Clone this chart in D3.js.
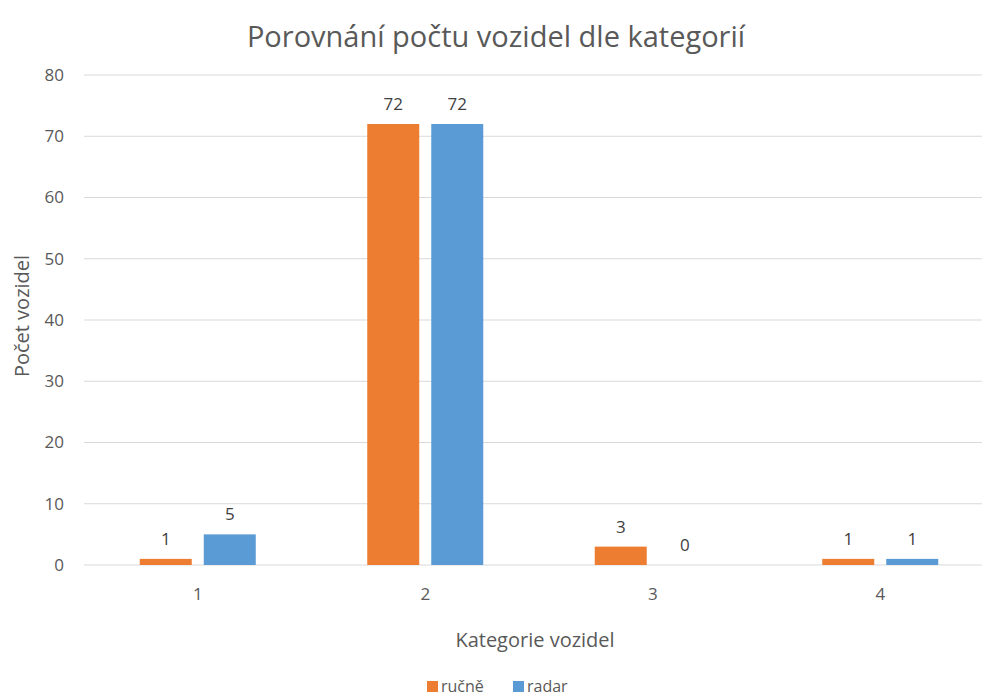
<!DOCTYPE html>
<html lang="cs">
<head>
  <meta charset="UTF-8">
  <title>Porovnání počtu vozidel dle kategorií</title>
  <script src="https://d3js.org/d3.v7.min.js"></script>
  <style>
    body { margin: 0; background: #fff; font-family: "Open Sans", sans-serif; }
    .grid line { stroke: #d9d9d9; }
  </style>
</head>
<body>
<svg width="982" height="699"></svg>

<script>
  const categories = ["1", "2", "3", "4"];
  const seriesNames = ["ručně", "radar"];
  const rucne = [1, 72, 3, 1];
  const radar = [5, 72, 0, 1];
  const yTicks = [0, 10, 20, 30, 40, 50, 60, 70, 80];
  const colors = ["#ED7D31", "#5B9BD5"];

  const data = categories.map((c, i) => ({ cat: c, values: [rucne[i], radar[i]] }));

  const svg = d3.select("svg"),
        margin = {top: 75, right: -12, bottom: 134, left: 84},
        width = +svg.attr("width") - margin.left - margin.right,
        height = +svg.attr("height") - margin.top - margin.bottom,
        g = svg.append("g").attr("transform", `translate(${margin.left},${margin.top})`);

  const x0 = d3.scaleBand().domain(categories).range([0, width]).padding(0);
  const x1 = d3.scaleBand().domain(seriesNames).range([0, x0.bandwidth()])
               .paddingInner(0.1875).paddingOuter(0.871);
  const y = d3.scaleLinear().domain([0, 80]).range([height, 0]);

  // gridlines
  g.append("g")
    .attr("class", "grid")
    .selectAll("line")
    .data(yTicks)
    .join("line")
      .attr("x1", 0)
      .attr("x2", width)
      .attr("y1", d => y(d))
      .attr("y2", d => y(d));

  // y tick labels
  g.append("g")
    .selectAll("text")
    .data(yTicks)
    .join("text")
      .attr("x", -20)
      .attr("y", d => y(d))
      .attr("dy", "0.35em")
      .attr("text-anchor", "end")
      .attr("fill", "#595959")
      .style("font-size", "17px")
      .text(d => d);

  // bars
  const groups = g.append("g")
    .selectAll("g")
    .data(data)
    .join("g")
      .attr("transform", d => `translate(${x0(d.cat)},0)`);

  groups.selectAll("rect")
    .data(d => d.values.map((v, i) => ({ key: seriesNames[i], v, i })))
    .join("rect")
      .attr("x", d => x1(d.key))
      .attr("y", d => y(d.v))
      .attr("width", x1.bandwidth())
      .attr("height", d => y(0) - y(d.v))
      .attr("fill", d => colors[d.i]);

  // value labels
  groups.selectAll("text")
    .data(d => d.values.map((v, i) => ({ key: seriesNames[i], v })))
    .join("text")
      .attr("x", d => x1(d.key) + x1.bandwidth() / 2)
      .attr("y", d => y(d.v) - 14)
      .attr("text-anchor", "middle")
      .attr("fill", "#404040")
      .style("font-size", "17px")
      .text(d => d.v);

  // x tick labels
  g.append("g")
    .selectAll("text")
    .data(categories)
    .join("text")
      .attr("x", d => x0(d) + x0.bandwidth() / 2)
      .attr("y", height + 35)
      .attr("text-anchor", "middle")
      .attr("fill", "#595959")
      .style("font-size", "17px")
      .text(d => d);

  // axis titles
  svg.append("text")
    .attr("x", 535)
    .attr("y", 647)
    .attr("text-anchor", "middle")
    .attr("fill", "#595959")
    .style("font-size", "20px")
    .text("Kategorie vozidel");

  svg.append("text")
    .attr("transform", "translate(29,316) rotate(-90)")
    .attr("text-anchor", "middle")
    .attr("fill", "#595959")
    .style("font-size", "20px")
    .text("Počet vozidel");

  // title
  svg.append("text")
    .attr("x", 496)
    .attr("y", 47)
    .attr("text-anchor", "middle")
    .attr("fill", "#595959")
    .style("font-size", "29px")
    .text("Porovnání počtu vozidel dle kategorií");

  // legend
  const legendX = [427, 513];
  const legend = svg.append("g")
    .selectAll("g")
    .data(seriesNames)
    .join("g")
      .attr("transform", (d, i) => `translate(${legendX[i]},681)`);
  legend.append("rect")
    .attr("width", 11).attr("height", 11)
    .attr("fill", (d, i) => colors[i]);
  legend.append("text")
    .attr("x", 14).attr("y", 11)
    .attr("fill", "#595959")
    .style("font-size", "16px")
    .text(d => d);
</script>
</body>
</html>
